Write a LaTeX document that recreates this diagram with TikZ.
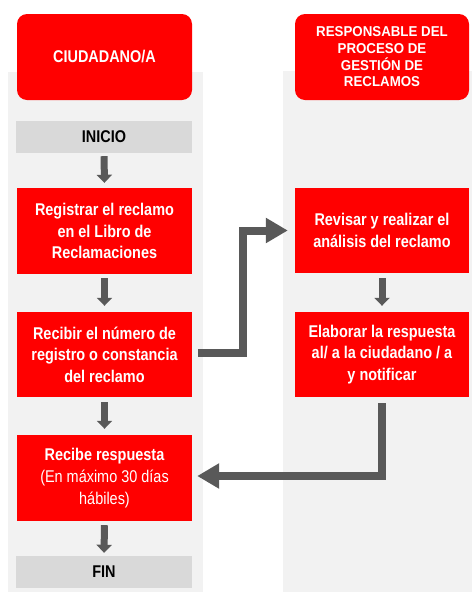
\documentclass[tikz,border=0pt]{standalone}
\usepackage{fontspec}
\setmainfont{Liberation Sans}
\newfontfamily\condfont[FakeStretch=0.85]{Liberation Sans}
\newfontfamily\hdrfont[FakeStretch=0.93]{Liberation Sans}
\usetikzlibrary{arrows.meta,calc}
\definecolor{lanebg}{HTML}{F2F2F2}
\definecolor{boxred}{HTML}{FF0000}
\definecolor{endgray}{HTML}{D9D9D9}
\definecolor{arrowgray}{HTML}{595959}
\begin{document}
\begin{tikzpicture}[x=1pt,y=-1pt,
  lane/.style={fill=lanebg,draw=none},
  header/.style={fill=boxred,rounded corners=10pt,text=white,align=center,
    minimum width=175pt,minimum height=86pt,inner sep=0pt},
  stepbox/.style={fill=boxred,text=white,align=center,
    font=\condfont\fontsize{17}{21.6}\selectfont\bfseries,
    minimum width=175pt,minimum height=86pt,inner sep=0pt},
  endbox/.style={fill=endgray,text=black,
    font=\condfont\fontsize{17}{21.6}\selectfont\bfseries,
    minimum width=176pt,minimum height=32pt,inner sep=0pt},
  downarrow/.style={draw=arrowgray,line width=7pt,-{Triangle[length=8pt,width=15pt]}},
  bigarrow/.style={draw=arrowgray,line width=8pt,line join=miter,
    -{Triangle[length=22pt,width=24pt]}}
]
\useasboundingbox (0,0) rectangle (472,592);
% lanes
\fill[lane] (8,72) rectangle (203,592);
\fill[lane] (283,71) rectangle (472,592);
% headers
\node[header,font=\condfont\fontsize{17}{21.6}\selectfont\bfseries] (h1) at (104.5,57) {CIUDADANO/A};
\node[header,minimum width=174pt,font=\hdrfont\fontsize{14.3}{16.7}\selectfont\bfseries] (h2) at (382,57)
  {RESPONSABLE DEL\\PROCESO DE\\GESTIÓN DE\\RECLAMOS};
% left column
\node[endbox] (ini) at (104,137) {INICIO};
\node[stepbox] (b1) at (104.5,231) {Registrar el reclamo\\en el Libro de\\Reclamaciones};
\node[stepbox,minimum height=85pt] (b2) at (104.5,354.5) {Recibir el número de\\registro o constancia\\del reclamo};
\node[stepbox] (b3) at (104.5,478) {Recibe respuesta\\\mdseries(En máximo 30 días\\\mdseries hábiles)};
\node[endbox] (fin) at (104,572) {FIN};
% right column
\node[stepbox,minimum width=174pt,minimum height=85pt] (r1) at (382,230.5) {Revisar y realizar el\\análisis del reclamo};
\node[stepbox,minimum width=174pt,minimum height=85pt] (r2) at (382,354.5) {Elaborar la respuesta\\al/ a la ciudadano / a\\y notificar};
% down arrows
\draw[downarrow] ([yshift=-3pt]ini.south) -- ([yshift=5pt]b1.north);
\draw[downarrow] ([yshift=-4pt]b1.south) -- ([yshift=6pt]b2.north);
\draw[downarrow] ([yshift=-5pt]b2.south) -- ([yshift=6pt]b3.north);
\draw[downarrow] ([yshift=-4pt]b3.south) -- ([yshift=3pt]fin.north);
\draw[downarrow] ([yshift=-5pt]r1.south) -- ([yshift=6pt]r2.north);
% cross-lane connectors
\draw[bigarrow] ([xshift=6pt,yshift=2pt]b2.east) -| ($(r1.west)+(-52,0)$) -- ([xshift=-7pt]r1.west);
\draw[bigarrow] ([yshift=-6pt]r2.south) |- ([xshift=5pt,yshift=2pt]b3.east);
\end{tikzpicture}
\end{document}
